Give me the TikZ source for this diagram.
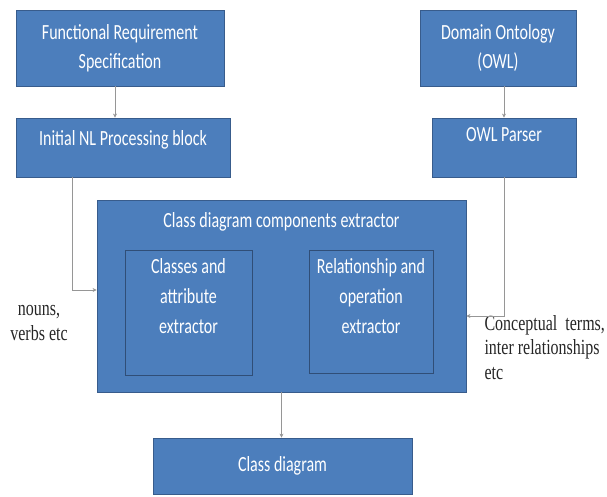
\documentclass[tikz,border=0pt]{standalone}
\usepackage{fontspec}
\setmainfont{Carlito}
\newfontfamily\notefont{Liberation Serif}
\usepackage{graphicx}
\usetikzlibrary{positioning, arrows.meta}
\definecolor{boxblue}{RGB}{76,126,188}
\definecolor{boxedge}{RGB}{56,92,140}
\definecolor{linegray}{RGB}{150,150,150}
\newcommand{\tallbox}[2][c]{\scalebox{1}[1.35]{\begin{tabular}{@{}#1@{}}#2\end{tabular}}}

\begin{document}
\begin{tikzpicture}[x=1pt, y=-1pt,
	block/.style={rectangle, draw=boxedge, fill=boxblue, line width=0.8pt, text=white, font=\fontsize{16}{22}\selectfont},
	inside/.style={anchor=north, text=white, font=\fontsize{16}{22}\selectfont},
	note/.style={text=black!85, font=\notefont\fontsize{16}{18}\selectfont},
	link/.style={draw=linegray, line width=0.6pt, -{Stealth[length=4pt, width=4pt]}}]
	\useasboundingbox (0,0) rectangle (607,496);
	% input side
	\node[block, minimum width=208pt, minimum height=76pt] (frs) at (120,48) {\tallbox{Functional Requirement\\Specification}};
	\node[block, minimum width=214pt, minimum height=59pt, label={[inside, yshift=-4pt]north:{\tallbox{Initial NL Processing block}}}] (nlp) at (123,147.5) {};
	\node[block, minimum width=156pt, minimum height=76pt] (dom) at (498,48) {\tallbox{Domain Ontology\\(OWL)}};
	\node[block, minimum width=144pt, minimum height=59pt, label={[inside]north:{\tallbox{OWL Parser}}}] (owl) at (504,147.5) {};
	% extractor
	\node[block, minimum width=369pt, minimum height=192pt, label={[inside, yshift=-4pt]north:{\tallbox{Class diagram components extractor}}}] (cde) at (281.5,296) {};
	\node[block, draw=boxedge!85!black, line width=1pt, minimum width=127pt, minimum height=125pt, label={[inside]north:{\tallbox{Classes and\\attribute\\extractor}}}] (cls) at (188.5,312.5) {};
	\node[block, draw=boxedge!85!black, line width=1pt, minimum width=124pt, minimum height=123pt, label={[inside]north:{\tallbox{Relationship and\\operation\\extractor}}}] (rel) at (371,311.5) {};
	\node[block, minimum width=259pt, minimum height=56pt] (cd) at (282.5,466) {\tallbox{Class diagram}};
	% notes
	\node[note] (nouns) at (39,323) {\tallbox{nouns,\\verbs etc}};
	\node[note, anchor=west] (terms) at (481,350) {\tallbox[l]{Conceptual\ \ terms,\\inter relationships\\etc}};
	% connectors
	\draw[link] ([xshift=-5pt]frs.south) -- ([xshift=-5pt]frs.south |- nlp.north);
	\draw[link] (owl.north |- dom.south) -- (owl.north);
	\draw[link] ([xshift=-51pt]nlp.south) |- ([yshift=6pt]cde.west);
	\draw[link] (owl.south) |- ([yshift=-20pt]cde.east);
	\draw[link] (cde.south) -- (cde.south |- cd.north);
\end{tikzpicture}
\end{document}
